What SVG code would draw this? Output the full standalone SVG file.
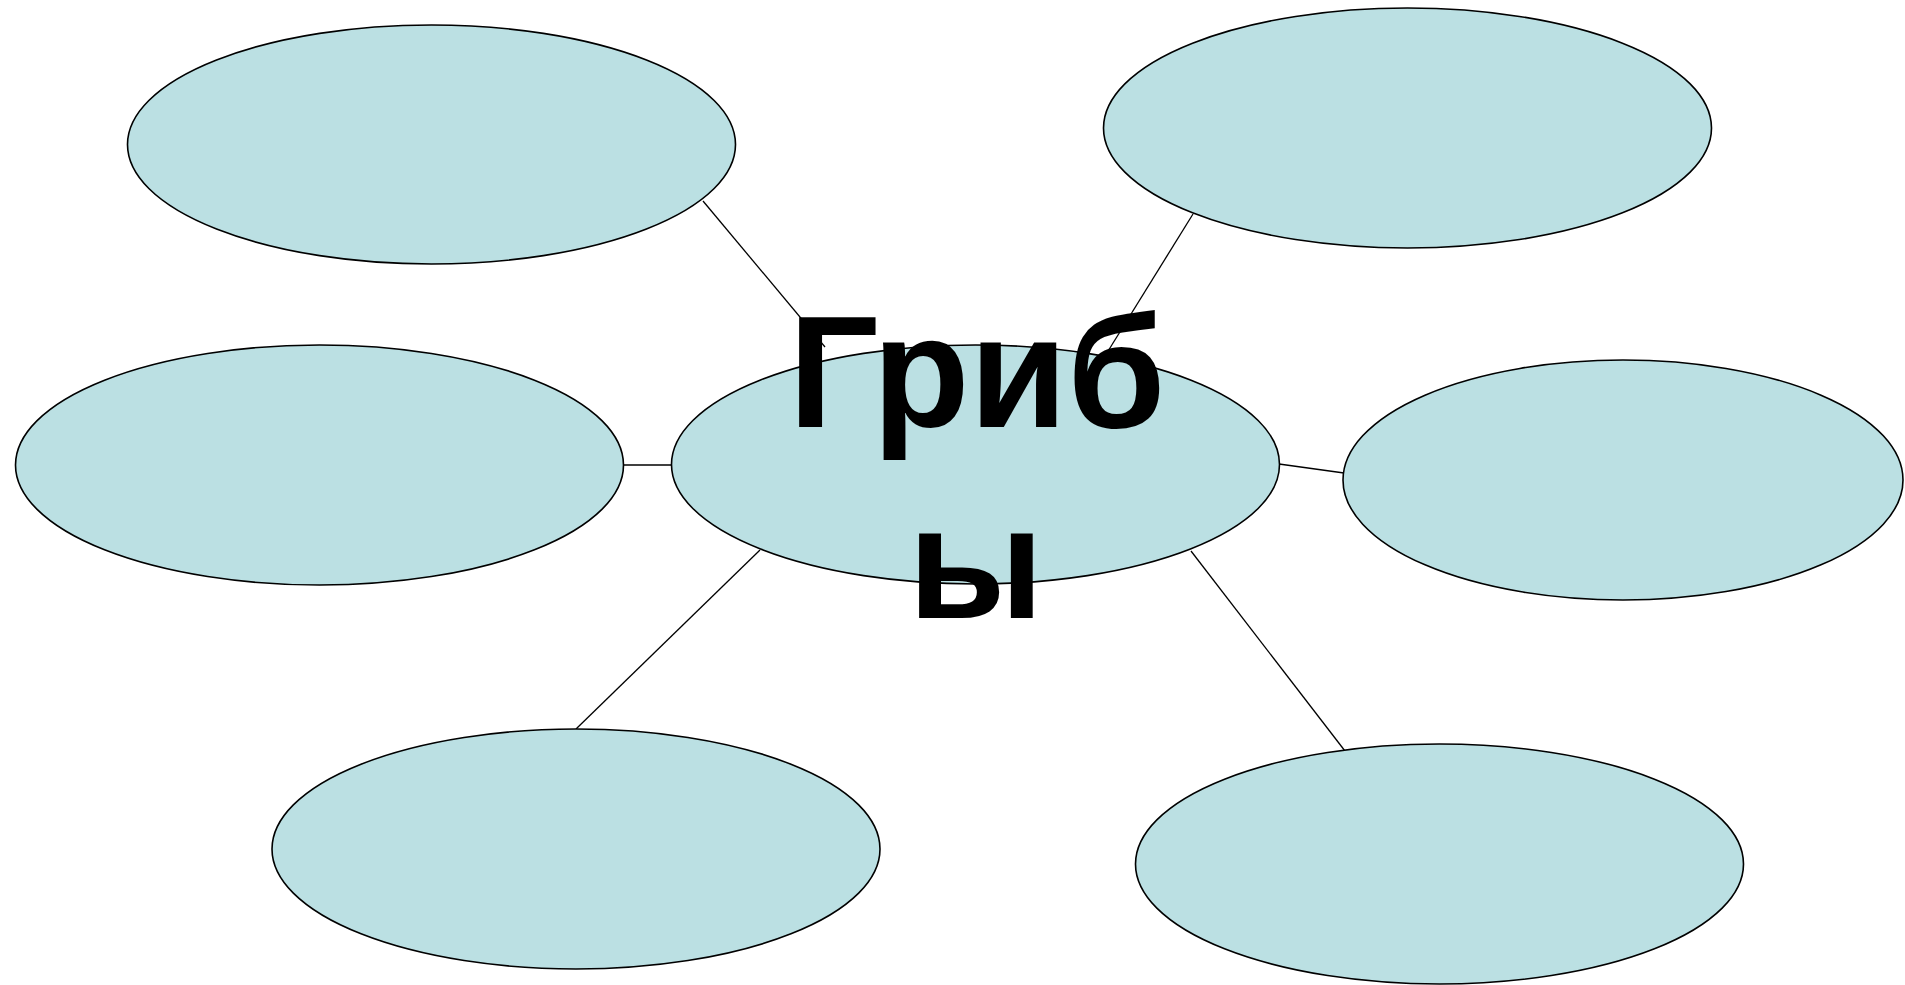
<svg xmlns="http://www.w3.org/2000/svg" width="1905" height="985" viewBox="0 0 1905 985">
<style>
.n{fill:#bbe0e3;stroke:#000;stroke-width:1.6}
.c line{stroke:#000;stroke-width:1.3}
.t{font-family:"Liberation Sans",Arial,sans-serif;font-weight:bold;font-size:159px;fill:#000;text-anchor:middle}
</style>
<rect width="1905" height="985" fill="#fff"/>
<g class="c" id="connectors">
<line x1="703" y1="201" x2="825" y2="347"/>
<line x1="1193" y1="214" x2="1105" y2="356"/>
<line x1="624" y1="465" x2="672" y2="465"/>
<line x1="1279" y1="464" x2="1344" y2="473"/>
<line x1="760" y1="550" x2="576" y2="729"/>
<line x1="1191" y1="551" x2="1345" y2="751"/>
</g>
<g id="node-tl"><ellipse class="n" cx="431.5" cy="144.5" rx="304" ry="119.5"/></g>
<g id="node-tr"><ellipse class="n" cx="1407.5" cy="128" rx="304" ry="120"/></g>
<g id="node-ml"><ellipse class="n" cx="319.5" cy="465" rx="304" ry="120"/></g>
<g id="node-r"><ellipse class="n" cx="1623" cy="480" rx="280" ry="120"/></g>
<g id="node-bl"><ellipse class="n" cx="576" cy="849" rx="304" ry="120"/></g>
<g id="node-br"><ellipse class="n" cx="1439.5" cy="864" rx="304" ry="120"/></g>
<g id="node-center">
<ellipse class="n" cx="975.5" cy="464.5" rx="304" ry="119.5"/>
<text class="t" x="977" y="426.5">Гриб</text>
<text class="t" x="976" y="618">ы</text>
</g>
</svg>
